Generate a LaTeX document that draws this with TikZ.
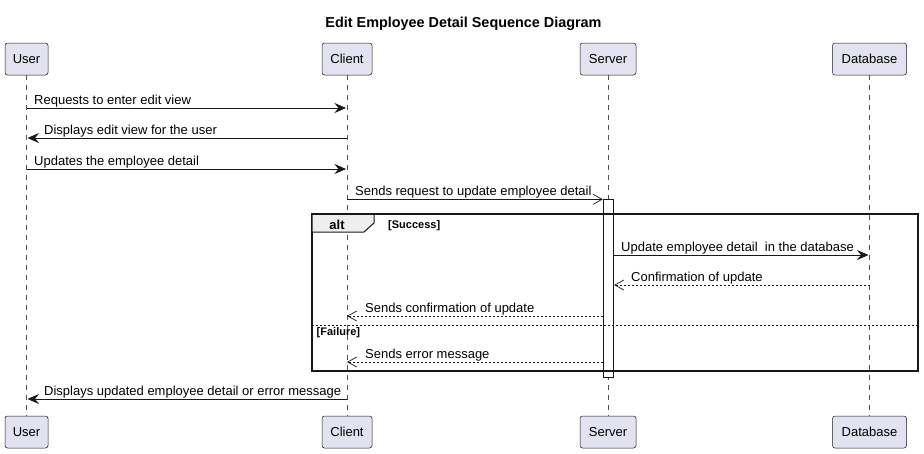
\documentclass[tikz,border=0pt]{standalone}
\usepackage{fontspec}
\setmainfont{Liberation Sans}
\usetikzlibrary{arrows.meta}
\definecolor{partfill}{HTML}{E2E2F0}
\definecolor{ink}{HTML}{181818}
\definecolor{tabfill}{HTML}{EEEEEE}
\begin{document}
\begin{tikzpicture}[x=1pt,y=-1pt,
  part/.style={draw=ink, fill=partfill, rounded corners=2.5pt, minimum height=32pt, inner sep=0pt, line width=0.5pt, font=\fontsize{13}{15}\selectfont},
  life/.style={draw=ink!75, dash pattern=on 5pt off 5pt, line width=0.5pt},
  sync/.style={draw=ink, line width=0.9pt, -{Stealth[length=11.5pt,width=10pt,inset=4pt]}},
  async/.style={draw=ink, line width=0.7pt, -{Straight Barb[length=9pt,width=10pt]}},
  reply/.style={async, dash pattern=on 2pt off 2pt},
  msg/.style={anchor=base west, inner sep=0pt, font=\fontsize{13}{15}\selectfont},
  guard/.style={anchor=base west, inner sep=0pt, font=\bfseries\fontsize{11}{13}\selectfont},
  actbox/.style={draw=ink, fill=white, line width=0.8pt}
]
\fill[white] (0,0) rectangle (924,453);
\useasboundingbox (0,0) rectangle (924,453);

% title
\node[inner sep=0pt, font=\bfseries\fontsize{14.4}{16}\selectfont] (title) at (463.5,24) {Edit Employee Detail Sequence Diagram};

% participants
\node[part, minimum width=43pt] (uT) at (26.5,59) {User};
\node[part, minimum width=50pt] (cT) at (347,59) {Client};
\node[part, minimum width=56pt] (sT) at (608,59) {Server};
\node[part, minimum width=74pt] (dT) at (869.5,59) {Database};
\node[part, minimum width=43pt] (uB) at (26.5,432) {User};
\node[part, minimum width=50pt] (cB) at (347,432) {Client};
\node[part, minimum width=56pt] (sB) at (608,432) {Server};
\node[part, minimum width=74pt] (dB) at (869.5,432) {Database};

% lifelines
\draw[life] (uT.south) -- (uB.north);
\draw[life] (cT.south) -- (cB.north);
\draw[life] (sT.south) -- (sB.north);
\draw[life] (dT.south) -- (dB.north);

% activation
\node[actbox, anchor=north west, minimum width=10.5pt, minimum height=178pt, inner sep=0pt] (act) at (602.8,199.3) {};

% message end points
\coordinate (u1) at (26.5,108); \coordinate (c1) at (346,108);
\coordinate (u2) at (27.5,138); \coordinate (c2) at (347,138);
\coordinate (u3) at (26.5,169); \coordinate (c3) at (346,169);
\coordinate (c4) at (347,199.3);
\coordinate (d5) at (868.5,255);
\coordinate (d6) at (869.5,285);
\coordinate (c7) at (347,316);
\coordinate (c8) at (347,362);
\coordinate (u9) at (27.5,399); \coordinate (c9) at (347,399);

% messages
\draw[sync] (u1) -- (c1);
\node[msg] (t1) at (34,104) {Requests to enter edit view};
\draw[sync] (c2) -- (u2);
\node[msg] (t2) at (44,134) {Displays edit view for the user};
\draw[sync] (u3) -- (c3);
\node[msg] (t3) at (34,165) {Updates the employee detail};
\draw[async] (c4) -- (act.north west);
\node[msg] (t4) at (355,195.3) {Sends request to update employee detail};

% alt frame
\draw[ink, line width=1.5pt] (312,214) rectangle (918,371);
\draw[ink, line width=1pt, fill=tabfill] (312,214) -- (374,214) -- (374,223) -- (364,232) -- (312,232) -- cycle;
\draw[ink, line width=1.5pt] (312,214) -- (918,214);
\node[inner sep=0pt, anchor=base, font=\bfseries\fontsize{13}{15}\selectfont] (altlbl) at (337,229) {alt};
\node[guard] (g1) at (388,228) {[Success]};
\draw[ink, line width=0.7pt, dash pattern=on 2pt off 2pt] (312,325) -- (918,325);
\node[guard] (g2) at (316.5,335) {[Failure]};

\draw[sync] (act.east |- d5) -- (d5);
\node[msg] (t5) at (621,251) {Update employee detail\ \ in the database};
\draw[reply] (d6) -- (act.east |- d6);
\node[msg] (t6) at (631,281) {Confirmation of update};
\draw[reply] (act.west |- c7) -- (c7);
\node[msg] (t7) at (365,312) {Sends confirmation of update};
\draw[reply] (act.west |- c8) -- (c8);
\node[msg] (t8) at (365,358) {Sends error message};

\draw[sync] (c9) -- (u9);
\node[msg] (t9) at (44,395) {Displays updated employee detail or error message};
\end{tikzpicture}
\end{document}
